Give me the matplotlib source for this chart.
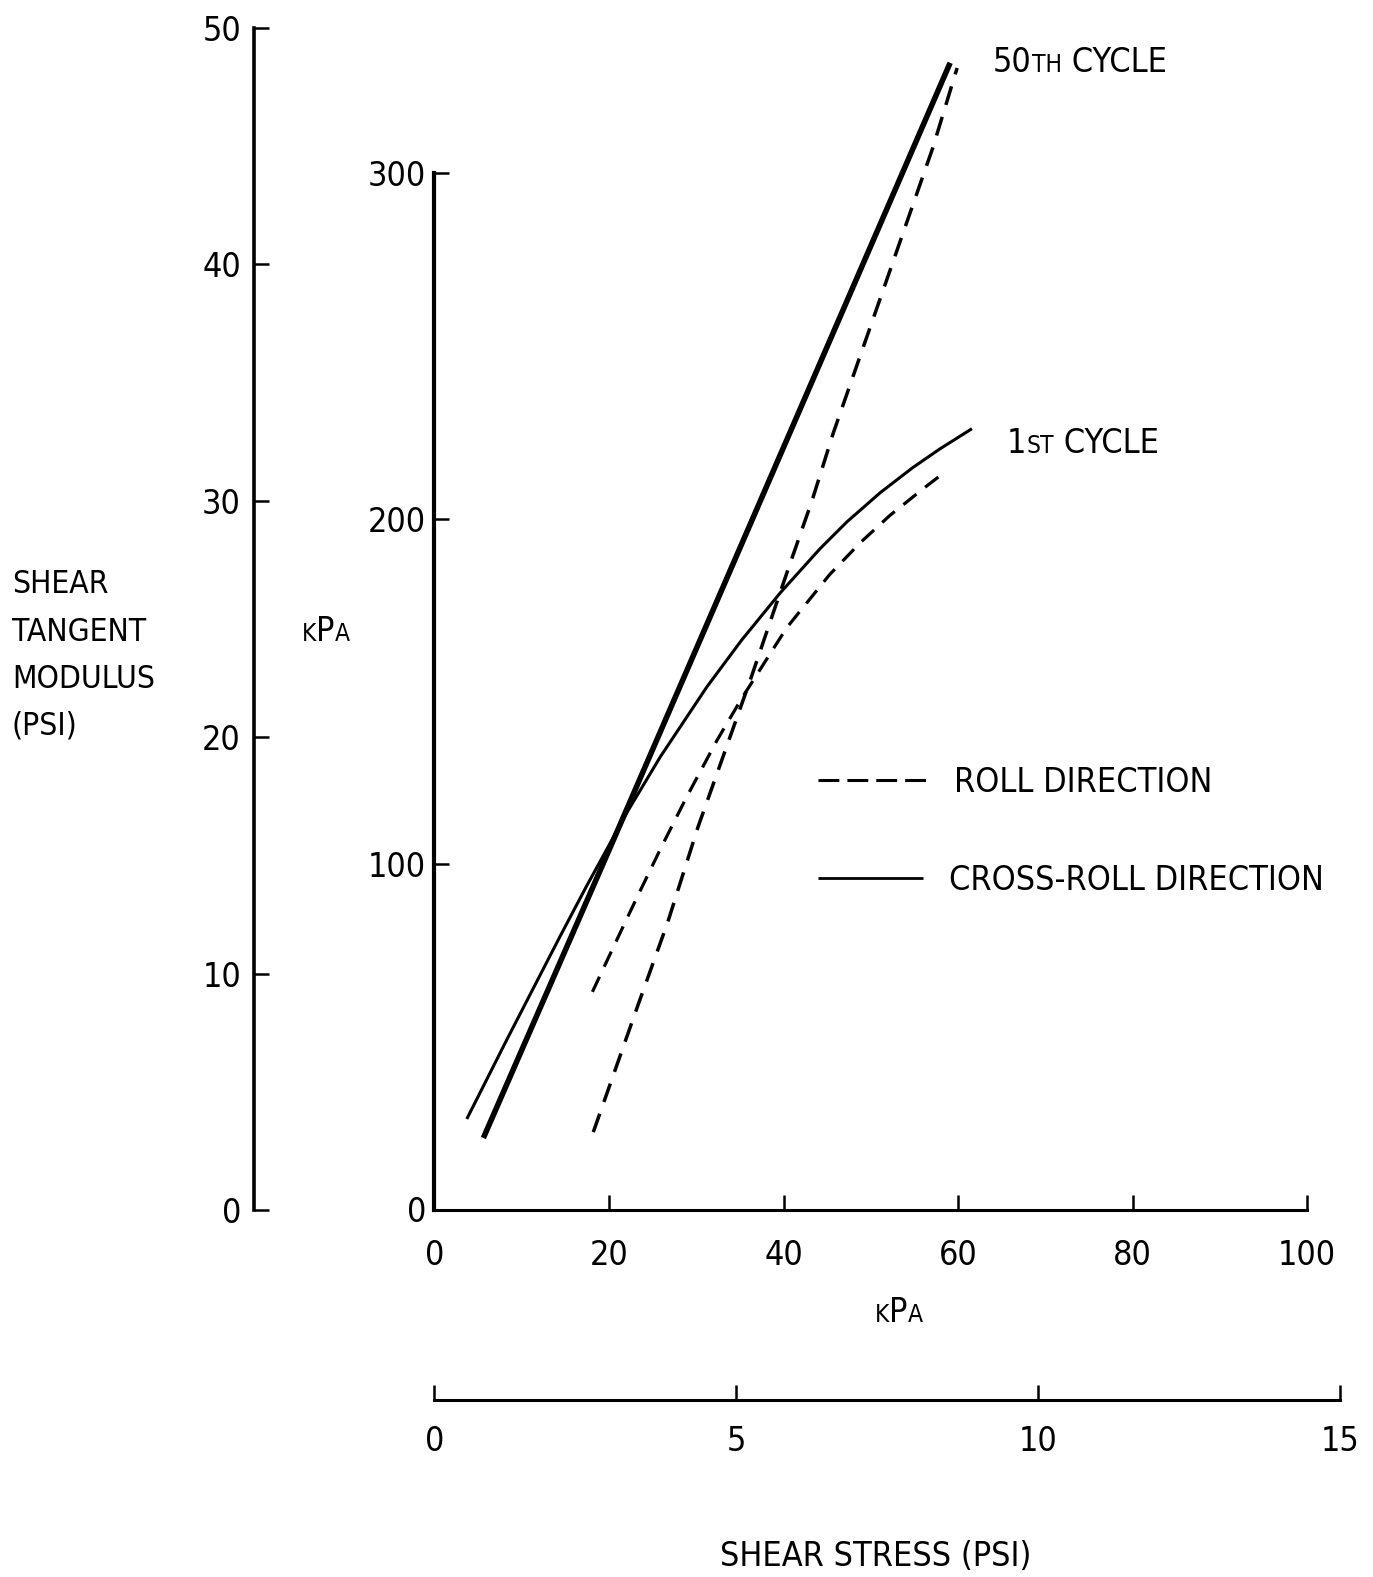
import matplotlib
matplotlib.use("Agg")
import matplotlib.pyplot as plt
from matplotlib import font_manager
from matplotlib.font_manager import FontProperties
from matplotlib.lines import Line2D

plt.rcParams["lines.scale_dashes"] = False

# ---------------- data: shear stress (kPa) vs shear tangent modulus (kPa) ----------------
cross_roll_50_stress = [5.6, 20.5, 59.1]
cross_roll_50_modulus = [20.7, 106.9, 331.9]

cross_roll_1_stress = [3.7, 8.3, 14.4, 17.3, 22.1, 25.9, 31.2, 35.2, 39.6, 44.2, 47.3, 51.1, 54.8, 57.9, 61.6]
cross_roll_1_modulus = [26.2, 49.2, 79.1, 93.0, 115.1, 131.1, 151.2, 164.8, 178.4, 191.3, 199.1, 207.5, 214.7, 220.1, 226.0]

roll_50_stress = [18.2, 23.2, 26.7, 30.2, 36.2, 40.5, 43.3, 45.7, 54.5, 57.1, 59.9]
roll_50_modulus = [22.4, 58.3, 82.9, 110.7, 153.3, 185.1, 205.4, 224.7, 288.4, 307.2, 330.4]

roll_1_stress = [18.1, 20.7, 23.2, 26.1, 28.9, 32.4, 35.2, 40.4, 45.3, 48.8, 52.2, 56.0, 57.9]
roll_1_modulus = [63.0, 77.0, 90.3, 105.4, 119.4, 135.9, 147.9, 168.5, 183.8, 193.0, 200.9, 208.6, 212.3]

kpa_stress_ticks = [0, 20, 40, 60, 80, 100]
kpa_modulus_ticks = [0, 100, 200, 300]
psi_modulus_ticks = [0, 10, 20, 30, 40, 50]
psi_stress_ticks = [0, 5, 10, 15]

legend_labels = ["ROLL DIRECTION", "CROSS-ROLL DIRECTION"]
left_label_lines = ["SHEAR", "TANGENT", "MODULUS", "(PSI)"]

# ---------------- figure geometry (pixels) ----------------
W, H, DPI = 1373, 1577, 100
fig = plt.figure(figsize=(W / DPI, H / DPI), dpi=DPI)
fig.patch.set_facecolor("white")


def fx(px):
    return px / W


def fy(py):
    return 1.0 - py / H


def pick_font():
    entries = font_manager.fontManager.ttflist
    names = {f.name for f in entries}
    if "Liberation Sans Narrow" in names:
        return "Liberation Sans Narrow", "normal", 25.0
    if any(f.name == "DejaVu Sans" and str(f.stretch) == "condensed" for f in entries):
        return "DejaVu Sans", "condensed", 24.5
    if "Roboto Condensed" in names:
        return "Roboto Condensed", "normal", 25.5
    return "DejaVu Sans", "normal", 22.5


FAMILY, STRETCH, FS = pick_font()
CAP = 0.72 * FS * DPI / 72.0


def fp(scale=1.0):
    return FontProperties(family=FAMILY, stretch=STRETCH, size=FS * scale)


# ---------------- main kPa axes ----------------
X0, X1, Y0, Y1 = 434.5, 1307.0, 1209.5, 173.0
ax = fig.add_axes([fx(X0), fy(Y0), fx(X1) - fx(X0), fy(Y1) - fy(Y0)])
ax.set_xlim(0, 100)
ax.set_ylim(0, 300)
ax.patch.set_visible(False)
for s in ("top", "right"):
    ax.spines[s].set_visible(False)
ax.spines["left"].set_linewidth(3.0)
ax.spines["bottom"].set_linewidth(2.2)
ax.set_xticks(kpa_stress_ticks)
ax.set_yticks(kpa_modulus_ticks)
ax.tick_params(direction="in", length=11, width=1.8)
ax.tick_params(axis="x", pad=21)
ax.tick_params(axis="y", pad=6)
for lab in ax.get_xticklabels() + ax.get_yticklabels():
    lab.set_fontproperties(fp())

ax.plot(cross_roll_50_stress, cross_roll_50_modulus, color="black", lw=4.0,
        solid_capstyle="butt", clip_on=False)
ax.plot(cross_roll_1_stress, cross_roll_1_modulus, color="black", lw=2.2,
        solid_capstyle="butt", solid_joinstyle="round", clip_on=False)
ax.plot(roll_50_stress, roll_50_modulus, color="black", lw=2.5,
        dashes=(14, 9), dash_capstyle="butt", clip_on=False)
ax.plot(roll_1_stress, roll_1_modulus, color="black", lw=2.3,
        dashes=(12, 8), dash_capstyle="butt", clip_on=False)

# ---------------- left psi scale for the modulus ----------------
ax_mod = fig.add_axes([fx(253.5), fy(1210), 0.0004, fy(28) - fy(1210)])
ax_mod.set_ylim(0, 50)
ax_mod.patch.set_visible(False)
for s in ("top", "right", "bottom"):
    ax_mod.spines[s].set_visible(False)
ax_mod.spines["left"].set_linewidth(2.6)
ax_mod.set_xticks([])
ax_mod.set_yticks(psi_modulus_ticks)
ax_mod.tick_params(axis="y", direction="in", length=11, width=1.8, pad=9)
for lab in ax_mod.get_yticklabels():
    lab.set_fontproperties(fp())

# ---------------- bottom psi scale for the stress ----------------
ax_str = fig.add_axes([fx(434.5), fy(1400), fx(1340) - fx(434.5), 0.0004])
ax_str.set_xlim(0, 15)
ax_str.patch.set_visible(False)
for s in ("top", "right", "left"):
    ax_str.spines[s].set_visible(False)
ax_str.spines["bottom"].set_linewidth(2.2)
ax_str.set_yticks([])
ax_str.set_xticks(psi_stress_ticks)
ax_str.tick_params(axis="x", direction="in", length=11, width=1.8, pad=18)
for lab in ax_str.get_xticklabels():
    lab.set_fontproperties(fp())


# ---------------- text ----------------
def base(center):
    return center + CAP / 2.0


def chained(x, center, parts):
    """Draw pieces of mixed size one after another on a shared baseline."""
    yb = fy(base(center))
    prev = None
    for s, scale in parts:
        kw = dict(fontproperties=fp(scale), va="baseline", ha="left", color="black")
        if prev is None:
            prev = fig.text(fx(x), yb, s, **kw)
        else:
            prev = ax.annotate(s, xy=(1, yb), xycoords=(prev, "figure fraction"),
                               annotation_clip=False, **kw)
    return prev


SMALL = 0.72

for line, c in zip(left_label_lines, [581, 628.5, 676, 722]):
    fig.text(fx(12), fy(base(c)), line, fontproperties=fp(0.93), va="baseline", ha="left")

chained(302, 628.5, [("K", SMALL), ("P", 1.0), ("A", SMALL)])
chained(875, 1310, [("K", SMALL), ("P", 1.0), ("A", SMALL)])
fig.text(fx(876), fy(base(1554)), "SHEAR STRESS (PSI)", fontproperties=fp(),
         va="baseline", ha="center")

chained(993, 60, [("50", 1.0), ("TH", SMALL), (" CYCLE", 1.0)])
chained(1007, 441, [("1", 1.0), ("ST", SMALL), (" CYCLE", 1.0)])

# key
fig.add_artist(Line2D([fx(818), fx(926)], [fy(779.5)] * 2, transform=fig.transFigure,
                      color="black", lw=2.2, dashes=(15, 5.8), dash_capstyle="butt"))
fig.add_artist(Line2D([fx(818), fx(923)], [fy(878)] * 2, transform=fig.transFigure,
                      color="black", lw=2.0, solid_capstyle="butt"))
fig.text(fx(953.6), fy(base(779.5)), legend_labels[0], fontproperties=fp(),
         va="baseline", ha="left")
fig.text(fx(948.6), fy(base(878)), legend_labels[1], fontproperties=fp(),
         va="baseline", ha="left")

fig.savefig("out.png", dpi=DPI, facecolor="white")
